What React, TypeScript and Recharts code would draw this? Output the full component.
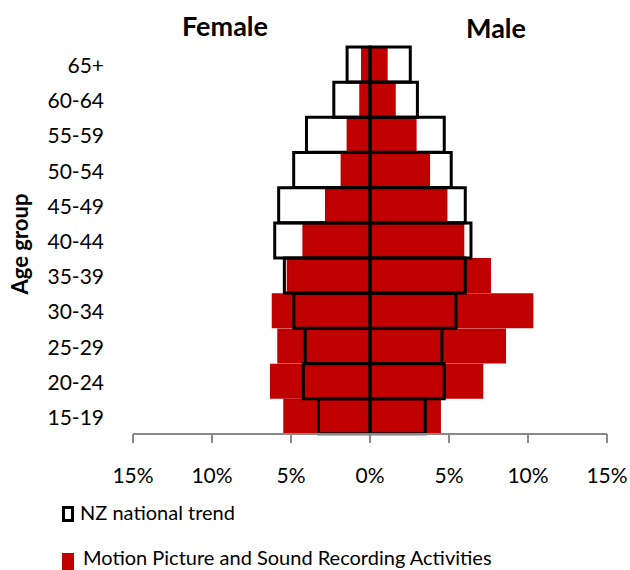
import React from 'react';
import { BarChart, Bar, XAxis, YAxis, Legend } from 'recharts';

const ageGroups = ['65+', '60-64', '55-59', '50-54', '45-49', '40-44', '35-39', '30-34', '25-29', '20-24', '15-19'];
const nzFemale = [1.45, 2.29, 4.02, 4.83, 5.78, 6.03, 5.42, 4.82, 4.1, 4.22, 3.26];
const nzMale = [2.55, 3.0, 4.7, 5.14, 6.03, 6.39, 6.03, 5.44, 4.55, 4.7, 3.5];
const industryFemale = [0.57, 0.68, 1.48, 1.86, 2.85, 4.28, 5.27, 6.22, 5.87, 6.33, 5.49];
const industryMale = [1.12, 1.63, 2.95, 3.8, 4.9, 5.97, 7.66, 10.34, 8.61, 7.17, 4.49];
const xTicks = [-15, -10, -5, 0, 5, 10, 15];
const nzName = 'NZ national trend';
const industryName = 'Motion Picture and Sound Recording Activities';
const legendOrder = [nzName, industryName];

const rows = ageGroups.map((age, i) => ({
  age,
  nzF: -nzFemale[i],
  nzM: nzMale[i],
  indF: -industryFemale[i],
  indM: industryMale[i],
}));

const FONT = 'Lato, "Open Sans", sans-serif';
const RED = '#C00000';

const renderLegend = (props: any) => {
  const payload = (props.payload || []).filter((p: any) => legendOrder.includes(p.value));
  payload.sort((a: any, b: any) => legendOrder.indexOf(a.value) - legendOrder.indexOf(b.value));
  return (
    <div style={{ position: 'relative', fontFamily: FONT, fontSize: 20, color: '#000' }}>
      {payload.map((p: any, i: number) => {
        const isNz = p.value === nzName;
        const top = i === 0 ? 0 : 45;
        return (
          <div key={p.value} style={{ position: 'absolute', left: 0, top, whiteSpace: 'nowrap' }}>
            <div
              style={{
                position: 'absolute',
                left: 0,
                top: isNz ? 6 : 8,
                width: 12,
                height: isNz ? 16 : 17,
                boxSizing: 'border-box',
                border: isNz ? '3px solid #000' : 'none',
                background: isNz ? '#fff' : RED,
              }}
            />
            <span
              style={{
                position: 'absolute',
                left: isNz ? 18 : 21,
                top: 0,
                lineHeight: '24px',
                fontSize: 20,
              }}
            >
              {p.value}
            </span>
          </div>
        );
      })}
    </div>
  );
};

export default function App() {
  return (
    <div style={{ position: 'absolute', left: 0, top: 0, width: 630, height: 570, overflow: 'hidden', background: '#fff' }}>
      <BarChart
        width={630}
        height={570}
        data={rows}
        layout="vertical"
        stackOffset="sign"
        barCategoryGap={0}
        barGap={0}
        margin={{ top: 47, right: 23, bottom: 106, left: 0 }}
      >
        <XAxis
          type="number"
          domain={[-15, 15]}
          ticks={xTicks}
          tickFormatter={(v: number) => `${Math.abs(v)}%`}
          height={30}
          tickSize={9}
          tickMargin={25}
          axisLine={{ stroke: '#898989', strokeWidth: 2 }}
          tickLine={{ stroke: '#898989', strokeWidth: 2 }}
          tick={{ fill: '#000', fontSize: 21, fontFamily: FONT }}
          allowDataOverflow
        />
        <YAxis
          yAxisId="ind"
          type="category"
          dataKey="age"
          width={133}
          axisLine={false}
          tickLine={false}
          tickSize={0}
          tickMargin={29}
          interval={0}
          tick={{ fill: '#000', fontSize: 21, fontFamily: FONT, dy: 1 }}
        />
        <YAxis yAxisId="nz" type="category" dataKey="age" hide />
        <Bar yAxisId="ind" dataKey="indF" stackId="ind" fill={RED} name={industryName} isAnimationActive={false} />
        <Bar yAxisId="ind" dataKey="indM" stackId="ind" fill={RED} name={industryName + ' (male)'} legendType="none" isAnimationActive={false} />
        <Bar yAxisId="nz" dataKey="nzF" stackId="nz" fill="none" stroke="#000" strokeWidth={3} name={nzName} isAnimationActive={false} />
        <Bar yAxisId="nz" dataKey="nzM" stackId="nz" fill="none" stroke="#000" strokeWidth={3} name={nzName + ' (male)'} legendType="none" isAnimationActive={false} />
        <Legend
          layout="vertical"
          align="center"
          verticalAlign="middle"
          content={renderLegend}
          wrapperStyle={{ top: 500, left: 62, width: 540, height: 70 }}
        />
      </BarChart>
      <svg width={630} height={570} style={{ position: 'absolute', left: 0, top: 0, pointerEvents: 'none' }}>
        <text x={225} y={36} textAnchor="middle" fontFamily={FONT} fontWeight="bold" fontSize={27} fill="#000">Female</text>
        <text x={496} y={38} textAnchor="middle" fontFamily={FONT} fontWeight="bold" fontSize={27} fill="#000">Male</text>
        <text x={28} y={244} textAnchor="middle" fontFamily={FONT} fontWeight="bold" fontSize={22} fill="#000" transform="rotate(-90, 28, 244)">Age group</text>
      </svg>
    </div>
  );
}
